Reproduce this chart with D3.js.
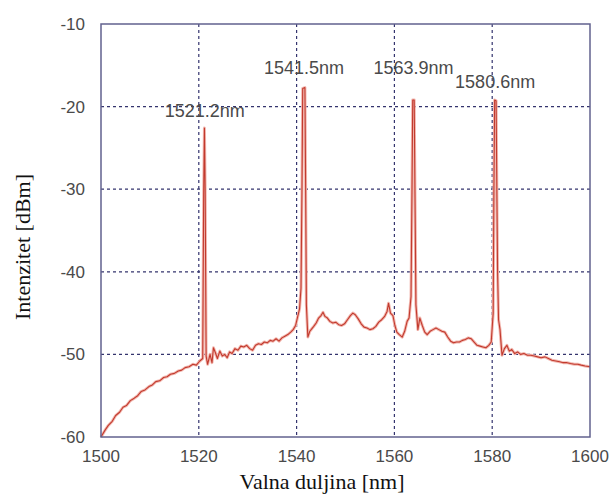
<!DOCTYPE html>
<html>
<head>
<meta charset="utf-8">
<script src="https://cdn.jsdelivr.net/npm/d3@7"></script>
<style>
  body { margin: 0; background: #fff; }
  svg { display: block; }
</style>
</head>
<body>
<svg id="chart" width="609" height="496"></svg>
<script>
// spectrum: wavelength [nm] and intensity [dBm]
const wavelength = [
  1500.0, 1500.8, 1501.5, 1502.3, 1503.0, 1503.8, 1504.5, 1505.2, 1506.0, 1506.8,
  1507.5, 1508.2, 1509.0, 1509.8, 1510.5, 1511.2, 1512.0, 1512.8, 1513.5, 1514.2,
  1515.0, 1515.8, 1516.5, 1517.2, 1518.0, 1518.8, 1519.5, 1520.2, 1520.8, 1521.0,
  1521.15, 1521.3, 1521.5, 1521.8, 1522.3, 1522.7, 1523.0, 1523.4, 1523.8, 1524.3,
  1524.8, 1525.3, 1525.8, 1526.3, 1526.8, 1527.4, 1528.0, 1528.6, 1529.2, 1529.8,
  1530.4, 1531.0, 1531.6, 1532.2, 1532.8, 1533.4, 1534.0, 1534.6, 1535.2, 1535.8,
  1536.4, 1537.0, 1537.6, 1538.2, 1538.8, 1539.3, 1539.8, 1540.2, 1540.6, 1540.9,
  1541.1, 1541.25, 1541.7, 1541.85, 1542.0, 1542.3, 1542.7, 1543.1, 1543.5, 1544.0,
  1544.5, 1545.0, 1545.4, 1545.8, 1546.3, 1546.8, 1547.4, 1548.0, 1548.6, 1549.2,
  1549.8, 1550.4, 1551.0, 1551.5, 1552.0, 1552.6, 1553.2, 1553.8, 1554.4, 1555.0,
  1555.6, 1556.2, 1556.8, 1557.4, 1558.0, 1558.5, 1558.8, 1559.2, 1559.7, 1560.1,
  1560.5, 1561.0, 1561.6, 1562.1, 1562.6, 1563.0, 1563.4, 1563.6, 1563.75, 1564.05,
  1564.2, 1564.4, 1564.8, 1565.2, 1565.7, 1566.2, 1566.7, 1567.3, 1567.9, 1568.5,
  1569.1, 1569.7, 1570.3, 1570.9, 1571.5, 1572.1, 1572.7, 1573.3, 1573.9, 1574.5,
  1575.1, 1575.7, 1576.3, 1576.9, 1577.5, 1578.1, 1578.7, 1579.3, 1579.8, 1580.2,
  1580.35, 1580.5, 1580.8, 1580.95, 1581.1, 1581.3, 1581.6, 1582.0, 1582.5, 1583.0,
  1583.5, 1584.0, 1584.6, 1585.2, 1585.8, 1586.5, 1587.2, 1587.9, 1588.6, 1589.3,
  1590.0, 1590.8, 1591.5, 1592.2, 1593.0, 1593.8, 1594.5, 1595.3, 1596.0, 1596.8,
  1597.5, 1598.2, 1599.0, 1600.0
];
const intensity = [
  -60.0, -59.2, -58.6, -58.1, -57.4, -57.0, -56.4, -56.2, -55.6, -55.3,
  -55.0, -54.5, -54.3, -53.9, -53.7, -53.3, -53.2, -52.8, -52.7, -52.4,
  -52.3, -52.0, -51.9, -51.6, -51.5, -51.2, -51.3, -50.8, -50.5, -30.5,
  -22.6, -30.0, -50.2, -51.2, -50.0, -51.0, -49.2, -49.8, -50.5, -49.6,
  -50.2, -50.0, -50.4, -49.7, -49.9, -49.3, -49.5, -49.0, -49.1, -48.9,
  -49.3, -49.5, -48.9, -48.7, -48.8, -48.5, -48.6, -48.3, -48.4, -48.1,
  -48.4, -48.0, -47.8, -47.6, -47.3, -47.0, -46.5, -45.5, -44.5, -42.0,
  -30.0, -17.8, -17.7, -30.0, -44.0, -47.9, -47.2, -46.9, -46.6, -46.2,
  -45.6, -45.3, -44.9, -45.4, -45.6, -46.0, -46.2, -46.1, -46.4, -46.5,
  -46.3, -45.8, -45.3, -45.0, -45.2, -45.7, -46.3, -46.7, -46.8, -47.0,
  -46.9, -46.6, -46.1, -45.8, -45.4, -44.8, -43.8, -45.0, -45.3, -46.5,
  -47.3, -47.6, -47.9, -47.2, -46.0, -45.6, -43.0, -30.0, -19.2, -19.2,
  -30.0, -44.0, -47.0, -45.6, -46.5, -47.3, -47.6, -47.2, -47.0, -46.8,
  -47.0, -47.2, -47.3, -47.9, -48.4, -48.6, -48.5, -48.5, -48.3, -48.2,
  -48.0, -48.1, -48.5, -48.9, -49.0, -49.1, -49.2, -48.9, -48.5, -45.0,
  -30.0, -19.2, -19.3, -30.0, -40.0, -45.8, -47.0, -50.1, -49.3, -48.9,
  -49.6, -49.4, -49.9, -49.7, -50.0, -49.9, -50.1, -50.1, -50.2, -50.3,
  -50.4, -50.3, -50.5, -50.7, -50.8, -50.9, -51.0, -51.0, -51.1, -51.2,
  -51.2, -51.3, -51.4, -51.5
];

// peak labels
const peakLabels = ["1521.2nm", "1541.5nm", "1563.9nm", "1580.6nm"];
const peakLabelX = [1521.2, 1541.5, 1563.9, 1580.6];
const peakLabelY = [-21.2, -16.0, -16.0, -17.8];

const xTicks = [1500, 1520, 1540, 1560, 1580, 1600];
const yTicks = [-60, -50, -40, -30, -20, -10];

const svg = d3.select("#chart");
const mLeft = 101, mRight = 590, mTop = 24, mBottom = 437;

const x = d3.scaleLinear().domain([1500, 1600]).range([mLeft, mRight]);
const y = d3.scaleLinear().domain([-60, -10]).range([mBottom, mTop]);

// dashed grid
svg.append("g")
  .selectAll("line")
  .data(xTicks.slice(1, -1))
  .join("line")
  .attr("x1", d => x(d)).attr("x2", d => x(d))
  .attr("y1", mTop).attr("y2", mBottom)
  .attr("stroke", "#34346e")
  .attr("stroke-width", 1.2)
  .attr("stroke-dasharray", "3,3");

svg.append("g")
  .selectAll("line")
  .data(yTicks.slice(1, -1))
  .join("line")
  .attr("x1", mLeft).attr("x2", mRight)
  .attr("y1", d => y(d)).attr("y2", d => y(d))
  .attr("stroke", "#34346e")
  .attr("stroke-width", 1.2)
  .attr("stroke-dasharray", "3,3");

// spectrum
const pts = wavelength.map((w, i) => [w, intensity[i]]);
const line = d3.line().x(d => x(d[0])).y(d => y(d[1]));

svg.append("path")
  .datum(pts)
  .attr("d", line)
  .attr("fill", "none")
  .attr("stroke", "#f2b8b0")
  .attr("stroke-width", 3)
  .attr("stroke-linejoin", "round");

svg.append("path")
  .datum(pts)
  .attr("d", line)
  .attr("fill", "none")
  .attr("stroke", "#c23a2e")
  .attr("stroke-width", 1.1)
  .attr("stroke-linejoin", "round");

// frame
svg.append("rect")
  .attr("x", mLeft).attr("y", mTop)
  .attr("width", mRight - mLeft).attr("height", mBottom - mTop)
  .attr("fill", "none")
  .attr("stroke", "#62628e")
  .attr("stroke-width", 1.5);

// tick labels
const tickFont = "'Liberation Sans', Arial, sans-serif";
svg.append("g")
  .selectAll("text")
  .data(xTicks)
  .join("text")
  .attr("x", d => x(d))
  .attr("y", 462)
  .attr("text-anchor", "middle")
  .attr("font-family", tickFont)
  .attr("font-size", 17)
  .attr("fill", "#4a4a4a")
  .text(d => d);

svg.append("g")
  .selectAll("text")
  .data(yTicks)
  .join("text")
  .attr("x", 85)
  .attr("y", d => y(d))
  .attr("dy", "0.35em")
  .attr("text-anchor", "end")
  .attr("font-family", tickFont)
  .attr("font-size", 17)
  .attr("fill", "#4a4a4a")
  .text(d => d);

// peak annotations
svg.append("g")
  .selectAll("text")
  .data(peakLabels)
  .join("text")
  .attr("x", (d, i) => x(peakLabelX[i]))
  .attr("y", (d, i) => y(peakLabelY[i]))
  .attr("text-anchor", "middle")
  .attr("font-family", tickFont)
  .attr("font-size", 18)
  .attr("fill", "#4a4a4a")
  .text(d => d);

// axis titles
svg.append("text")
  .attr("x", 322)
  .attr("y", 489)
  .attr("text-anchor", "middle")
  .attr("font-family", "'Liberation Serif', 'Times New Roman', serif")
  .attr("font-size", 22)
  .attr("fill", "#111")
  .text("Valna duljina [nm]");

svg.append("text")
  .attr("transform", "translate(30,247) rotate(-90)")
  .attr("text-anchor", "middle")
  .attr("font-family", "'Liberation Serif', 'Times New Roman', serif")
  .attr("font-size", 22)
  .attr("fill", "#111")
  .text("Intenzitet [dBm]");
</script>
</body>
</html>
